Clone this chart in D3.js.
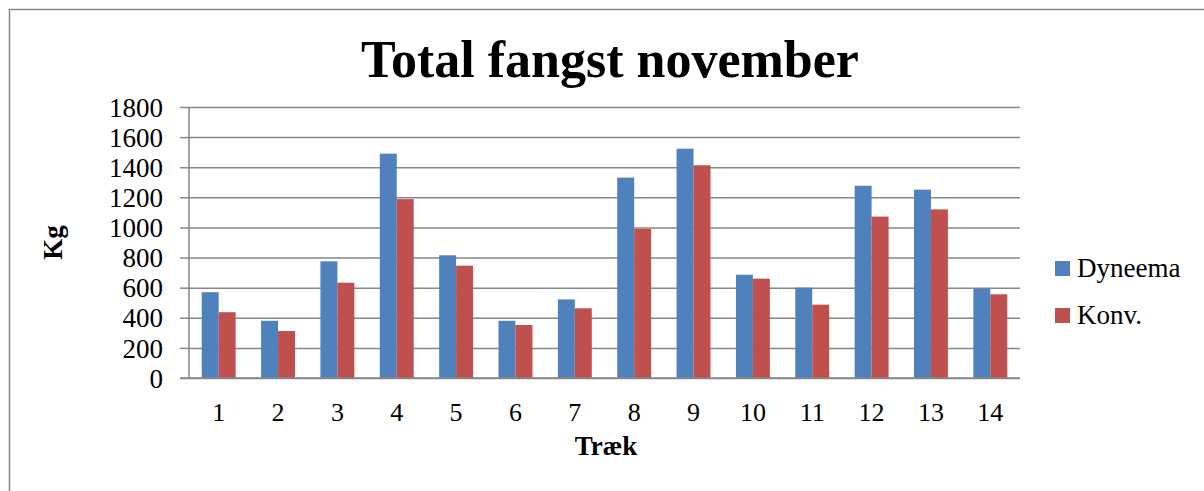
<!DOCTYPE html>
<html>
<head>
<meta charset="utf-8">
<script src="https://cdn.jsdelivr.net/npm/d3@7"></script>
<style>
  html, body { margin: 0; padding: 0; background: #fff; }
  svg { display: block; }
  text { font-family: "Liberation Serif", "Times New Roman", serif; fill: #000; }
</style>
</head>
<body>
<svg id="chart" width="1204" height="491"></svg>
<script>
const categories = ["1","2","3","4","5","6","7","8","9","10","11","12","13","14"];
const seriesNames = ["Dyneema", "Konv."];
const dyneema = [570, 380, 775, 1490, 815, 380, 522, 1331, 1523, 686, 600, 1277, 1251, 593];
const konv    = [437, 312, 633, 1188, 746, 352, 463, 990, 1413, 660, 487, 1072, 1120, 556];
const yTicks = [0, 200, 400, 600, 800, 1000, 1200, 1400, 1600, 1800];
const colors = ["#4F81BD", "#C0504D"];
const title = "Total fangst november";
const xTitle = "Træk";
const yTitle = "Kg";

const svg = d3.select("#chart");
const m = { left: 189, right: 1020, top: 107, bottom: 378 };

// chart border
svg.append("path")
  .attr("d", "M9.5,1000 V9.5 H1300")
  .attr("fill", "none").attr("stroke", "#888").attr("stroke-width", 1.5);

const x0 = d3.scaleBand().domain(categories).range([m.left, m.right]).paddingInner(0).paddingOuter(0);
const x1 = d3.scaleBand().domain(seriesNames).range([0, x0.bandwidth()]).paddingInner(0).paddingOuter(0.75);
const y = d3.scaleLinear().domain([0, 1800]).range([m.bottom, m.top]);

// gridlines
const yAxis = d3.axisLeft(y).tickValues(yTicks).tickSize(-(m.right - m.left)).tickSizeOuter(0).tickFormat("");
const gy = svg.append("g").attr("transform", `translate(${m.left},0)`).call(yAxis);
gy.select(".domain").remove();
gy.selectAll(".tick line").attr("stroke", "#878787").attr("stroke-width", 1.5);
gy.selectAll(".tick").append("line").attr("x1", -9).attr("x2", 0).attr("stroke", "#878787").attr("stroke-width", 1.5);
gy.selectAll(".tick").append("text")
  .attr("x", -26).attr("dy", "0.34em").attr("text-anchor", "end")
  .style("font-size", "27px").text(d => d);

// y axis line
svg.append("line").attr("x1", m.left).attr("x2", m.left).attr("y1", m.top).attr("y2", m.bottom)
  .attr("stroke", "#878787").attr("stroke-width", 1.5);

// bars
const data = categories.map((c, i) => ({ c, vals: [dyneema[i], konv[i]] }));
const groups = svg.append("g").selectAll("g").data(data).join("g")
  .attr("transform", d => `translate(${x0(d.c)},0)`);
groups.selectAll("rect").data(d => d.vals.map((v, j) => ({ s: seriesNames[j], v, j }))).join("rect")
  .attr("x", d => x1(d.s))
  .attr("width", x1.bandwidth())
  .attr("y", d => y(d.v))
  .attr("height", d => y(0) - y(d.v))
  .attr("fill", d => colors[d.j]);

// x axis line
svg.append("line").attr("x1", m.left - 9).attr("x2", m.right).attr("y1", m.bottom).attr("y2", m.bottom)
  .attr("stroke", "#878787").attr("stroke-width", 1.5);

// x labels
const xAxis = d3.axisBottom(x0).tickSize(0).tickPadding(0);
const gx = svg.append("g").attr("transform", `translate(0,${m.bottom})`).call(xAxis);
gx.select(".domain").remove();
gx.selectAll(".tick text").attr("y", 43).attr("dy", 0)
  .style("font-size", "26px").style("font-family", "'Liberation Serif', serif").attr("fill", "#000");

// titles
svg.append("text").attr("x", 610).attr("y", 77).attr("text-anchor", "middle")
  .style("font-size", "52px").style("font-weight", "bold").text(title);
svg.append("text").attr("x", 606).attr("y", 455).attr("text-anchor", "middle")
  .style("font-size", "27px").style("font-weight", "bold").text(xTitle);
svg.append("text").attr("transform", `translate(62,${(m.top + m.bottom) / 2}) rotate(-90)`)
  .attr("text-anchor", "middle").style("font-size", "27px").style("font-weight", "bold").text(yTitle);

// legend
const lg = svg.append("g").selectAll("g").data(seriesNames).join("g")
  .attr("transform", (d, i) => `translate(1055,${261 + i * 47})`);
lg.append("rect").attr("width", 15).attr("height", 15).attr("fill", (d, i) => colors[i]);
lg.append("text").attr("x", 22).attr("y", 15.5).style("font-size", "27px").text(d => d);
</script>
</body>
</html>
